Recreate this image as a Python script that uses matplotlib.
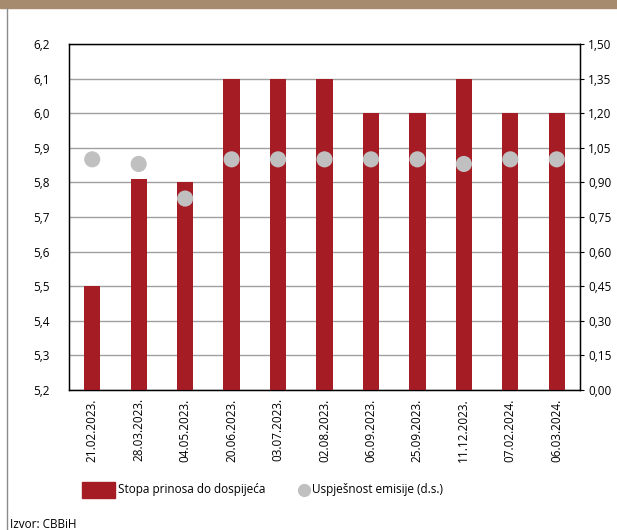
import matplotlib.pyplot as plt
from matplotlib.lines import Line2D
from matplotlib.patches import Rectangle

plt.rcParams['font.family'] = ['Open Sans', 'DejaVu Sans']

dates = ['21.02.2023.', '28.03.2023.', '04.05.2023.', '20.06.2023.', '03.07.2023.',
         '02.08.2023.', '06.09.2023.', '25.09.2023.', '11.12.2023.', '07.02.2024.',
         '06.03.2024.']
yield_rate = [5.5, 5.81, 5.8, 6.1, 6.1, 6.1, 6.0, 6.0, 6.1, 6.0, 6.0]
success = [1.0, 0.98, 0.83, 1.0, 1.0, 1.0, 1.0, 1.0, 0.98, 1.0, 1.0]

left_ticks = [5.2, 5.3, 5.4, 5.5, 5.6, 5.7, 5.8, 5.9, 6.0, 6.1, 6.2]
right_ticks = [0.0, 0.15, 0.30, 0.45, 0.60, 0.75, 0.90, 1.05, 1.20, 1.35, 1.50]

bar_color = '#A51C24'
dot_color = '#C0C0C0'

fig = plt.figure(figsize=(6.17, 5.30), dpi=100)

# brown band on top and thin frame line on the left
fig.patches.append(Rectangle((0, 1 - 8 / 530), 1, 8 / 530, transform=fig.transFigure,
                             color='#A68B6E', zorder=0))
fig.lines.append(Line2D([7 / 617, 7 / 617], [0, 1 - 8 / 530], transform=fig.transFigure,
                        color='#8C8C8C', lw=1))

ax = fig.add_axes([69 / 617, 1 - 390 / 530, 511 / 617, 346 / 530])
x = list(range(len(dates)))
ax.bar(x, [v - 5.2 for v in yield_rate], bottom=5.2, width=0.35, color=bar_color, zorder=3)
ax.set_ylim(5.2, 6.2)
ax.set_xlim(-0.5, len(dates) - 0.5)
ax.set_yticks(left_ticks)
ax.set_yticklabels([f'{t:.1f}'.replace('.', ',') for t in left_ticks])
ax.set_xticks(x)
ax.set_xticklabels(dates, rotation=90, va='top', ha='center')
ax.tick_params(axis='x', length=0, pad=6, labelsize=8.5)
ax.tick_params(axis='y', length=0, pad=14, labelsize=8.5)
ax.grid(axis='y', color='#A0A0A0', lw=1, zorder=0)
for s in ax.spines.values():
    s.set_linewidth(1)
    s.set_color('black')

ax2 = ax.twinx()
ax2.scatter(x, success, s=135, color=dot_color, zorder=4, edgecolors='none')
ax2.set_ylim(0, 1.5)
ax2.set_yticks(right_ticks)
ax2.set_yticklabels([f'{t:.2f}'.replace('.', ',') for t in right_ticks])
ax2.tick_params(axis='y', length=3, pad=3, labelsize=8.5)

# legend drawn by hand
fig.patches.append(Rectangle((82 / 617, 1 - 498 / 530), 33 / 617, 16 / 530,
                             transform=fig.transFigure, color=bar_color))
fig.text(118 / 617, 1 - 490 / 530, 'Stopa prinosa do dospijeća', fontsize=8.5, va='center')
fig.lines.append(Line2D([304 / 617], [1 - 490 / 530], transform=fig.transFigure,
                        marker='o', markersize=9.5, color=dot_color, markeredgecolor='none'))
fig.text(312 / 617, 1 - 490 / 530, 'Uspješnost emisije (d.s.)', fontsize=8.5, va='center')

fig.text(10 / 617, 1 - 524 / 530, 'Izvor: CBBiH', fontsize=8.5, va='center')

fig.savefig('out.png', dpi=100)
